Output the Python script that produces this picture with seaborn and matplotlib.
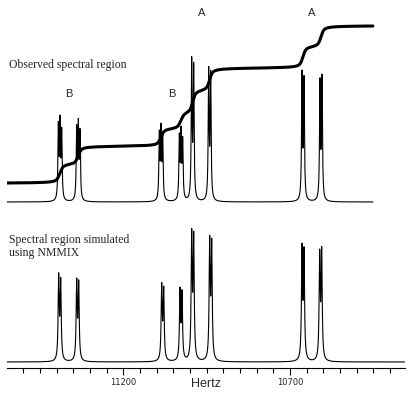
import numpy as np
import pandas as pd
import matplotlib.pyplot as plt
import seaborn as sns

# ── Data ─────────────────────────────────────────────────────
# group labels (A/B) at the centre of each pair of multiplets
label_text = ['B', 'B', 'A', 'A']
label_hz = [11364, 11054, 10965, 10634]

# observed spectrum: line positions (Hz) and heights
obs_hz = [11395, 11390, 11385, 11340, 11335, 11330,
          11092, 11087, 11082, 11032, 11027, 11022,
          10995, 10989, 10944, 10938, 10664, 10658, 10610, 10604]
obs_height = [72, 74, 66, 69, 71, 65,
              64, 67, 61, 61, 64, 57,
              136, 130, 127, 123, 124, 118, 116, 120]

# simulated spectrum (NMMIX): line positions (Hz) and heights
sim_hz = [11394, 11388, 11340, 11334, 11085, 11079, 11030, 11024,
          10995, 10989, 10941, 10935, 10664, 10658, 10611, 10605]
sim_height = [82, 77, 77, 75, 73, 69, 68, 65,
              122, 119, 116, 113, 109, 105, 103, 106]

obs_width_hz = 1.6
sim_width_hz = 1.9
integral_width_hz = 5.0

# integral trace: start and end level
integral_start = 185
integral_end = 342

x_range = (11549, 10355)
obs_range = (11549, 10451)
major_ticks = [11200, 10700]
minor_ticks = np.arange(10400, 11501, 50)

# vertical offsets (in pixel units) of the two traces
OBS_BASE = 166
SIM_BASE = 6


def spectrum(hz, centres, heights, width):
    y = np.zeros_like(hz)
    for c, h in zip(centres, heights):
        y += h / (1 + ((hz - c) / width) ** 2)
    return y


hz_obs = np.arange(obs_range[0], obs_range[1], -0.2)
hz_sim = np.arange(x_range[0], x_range[1], -0.2)

obs = spectrum(hz_obs, obs_hz, obs_height, obs_width_hz)
sim = spectrum(hz_sim, sim_hz, sim_height, sim_width_hz)

# integral of the observed trace (taken at lower resolution)
cum = np.cumsum(spectrum(hz_obs, obs_hz, obs_height, integral_width_hz))
integral = integral_start + (integral_end - integral_start) * cum / cum[-1]

df_obs = pd.DataFrame({'hz': hz_obs, 'y': OBS_BASE + obs})
df_int = pd.DataFrame({'hz': hz_obs, 'y': integral})
df_sim = pd.DataFrame({'hz': hz_sim, 'y': SIM_BASE + sim})

# ── Plot ─────────────────────────────────────────────────────
sns.set_style('ticks')
plt.rcParams['font.family'] = ['DejaVu Sans']

fig = plt.figure(figsize=(4.15, 3.95), dpi=100)
ax = fig.add_axes([7 / 415, 27 / 395, 398 / 415, 368 / 395])

sns.lineplot(data=df_obs, x='hz', y='y', estimator=None, sort=False,
             color='black', linewidth=0.8, ax=ax)
sns.lineplot(data=df_sim, x='hz', y='y', estimator=None, sort=False,
             color='black', linewidth=0.8, ax=ax)
sns.lineplot(data=df_int, x='hz', y='y', estimator=None, sort=False,
             color='black', linewidth=2.2, ax=ax)

for txt, hz in zip(label_text, label_hz):
    y = 355 if txt == 'A' else 274
    ax.text(hz, y, txt, ha='center', va='center', fontsize=8,
            family='Liberation Sans')

ax.text(0.005, 0.823, 'Observed spectral region', transform=ax.transAxes,
        ha='left', va='center', fontsize=8.5, family='Liberation Serif')
ax.text(0.005, 0.33, 'Spectral region simulated\nusing NMMIX',
        transform=ax.transAxes, ha='left', va='center', fontsize=8.5,
        family='Liberation Serif', linespacing=1.2)

ax.set_xlim(*x_range)
ax.set_ylim(0, 368)
ax.set_xticks(major_ticks)
ax.set_xticklabels([str(t) for t in major_ticks])
ax.set_xticks(minor_ticks, minor=True)
ax.set_yticks([])
ax.tick_params(axis='x', which='major', length=5, width=0.8,
               direction='out', labelsize=6, pad=2, color='black')
ax.tick_params(axis='x', which='minor', length=3.5, width=0.8,
               direction='out', color='black')
ax.set_xlabel('Hertz', fontsize=9, family='Liberation Sans')
ax.xaxis.set_label_coords(0.5, -0.028)
ax.set_ylabel('')
sns.despine(ax=ax, left=True)
ax.spines['bottom'].set_linewidth(0.8)
ax.spines['bottom'].set_color('black')

plt.savefig('out.png', dpi=100)
